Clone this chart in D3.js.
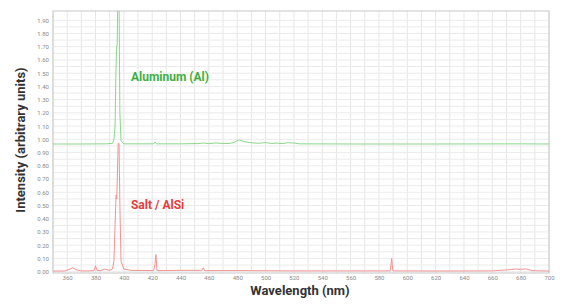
<!DOCTYPE html>
<html>
<head>
<meta charset="utf-8">
<script src="https://cdn.jsdelivr.net/npm/d3@7"></script>
<style>
  body { margin: 0; background: #fff; }
  #chartbox { width: 581px; height: 307px; }
</style>
</head>
<body>
<div id="chartbox"></div>
<script>
// tick labels
var xTicks = [360, 380, 400, 420, 440, 460, 480, 500, 520, 540, 560, 580, 600, 620, 640, 660, 680, 700];
var yTicks = d3.range(0, 20).map(i => i / 10);

// aluminum (Al) trace
var alNm = [350, 370, 388, 392, 393, 393.8, 394.3, 394.8, 395.3, 395.7, 396.6, 397.2, 398, 400, 421, 422, 423, 440, 452, 456, 460, 465, 470, 475, 478, 481, 483, 486, 490, 495, 500, 504, 508, 512, 516, 520, 524, 560, 620, 680, 700];
var alVal = [0.965, 0.965, 0.966, 0.97, 1.0, 1.1, 1.45, 1.68, 1.72, 2.05, 2.05, 1.2, 0.99, 0.966, 0.966, 0.98, 0.966, 0.966, 0.968, 0.972, 0.968, 0.973, 0.969, 0.97, 0.978, 0.995, 0.99, 0.98, 0.974, 0.97, 0.976, 0.969, 0.972, 0.968, 0.975, 0.972, 0.966, 0.965, 0.965, 0.966, 0.965];

// salt / AlSi trace
var saltNm = [350, 358, 362, 364, 366, 370, 376, 379, 380, 381, 384, 386, 390, 392, 393, 393.8, 394.5, 395, 395.6, 396, 396.6, 397.2, 398, 400, 405, 421, 422, 422.6, 423.4, 440, 455, 456, 457, 480, 520, 560, 588, 589, 589.8, 591, 620, 660, 672, 676, 680, 684, 688, 700];
var saltVal = [0.005, 0.005, 0.02, 0.03, 0.015, 0.006, 0.006, 0.01, 0.045, 0.01, 0.008, 0.02, 0.01, 0.02, 0.08, 0.35, 0.58, 0.55, 0.8, 0.97, 0.97, 0.5, 0.08, 0.02, 0.01, 0.008, 0.06, 0.13, 0.008, 0.01, 0.01, 0.03, 0.008, 0.008, 0.006, 0.006, 0.006, 0.1, 0.006, 0.006, 0.005, 0.006, 0.015, 0.02, 0.018, 0.02, 0.008, 0.005];

var alData = alNm.map((d, i) => ({ x: d, y: alVal[i] }));
var saltData = saltNm.map((d, i) => ({ x: d, y: saltVal[i] }));

var margin = { top: 11, right: 32, bottom: 34, left: 53 },
    width = 581 - margin.left - margin.right,
    height = 307 - margin.top - margin.bottom;

var svg = d3.select('#chartbox').append('svg')
    .attr('width', 581)
    .attr('height', 307);
var g = svg.append('g')
    .attr('transform', 'translate(' + [margin.left, margin.top] + ')');

var x = d3.scaleLinear().domain([350, 700]).range([0, width]);
var y = d3.scaleLinear().domain([-0.01, 1.97]).range([height, 0]);

// grid
g.append('g').selectAll('line')
    .data(d3.range(350, 701, 10))
    .enter().append('line')
    .attr('x1', d => x(d)).attr('x2', d => x(d))
    .attr('y1', 0).attr('y2', height)
    .style('stroke', '#e6e6e6').style('stroke-width', 1);
g.append('g').selectAll('line')
    .data(d3.range(0, 39).map(i => i * 0.05))
    .enter().append('line')
    .attr('x1', 0).attr('x2', width)
    .attr('y1', d => y(d)).attr('y2', d => y(d))
    .style('stroke', '#ebebeb').style('stroke-width', 1);

g.append('rect')
    .attr('width', width).attr('height', height)
    .style('fill', 'none').style('stroke', '#c8c8c8');

var clip = g.append('clipPath').attr('id', 'clip')
    .append('rect').attr('width', width).attr('height', height);

var line = d3.line().x(d => x(d.x)).y(d => y(d.y));

g.append('path').datum(alData)
    .attr('d', line)
    .attr('clip-path', 'url(#clip)')
    .style('fill', 'none').style('stroke', '#8ad68a').style('stroke-width', 1);
g.append('path').datum(saltData)
    .attr('d', line)
    .attr('clip-path', 'url(#clip)')
    .style('fill', 'none').style('stroke', '#f29393').style('stroke-width', 1);

// axes
var xAxis = g.append('g')
    .attr('transform', 'translate(0,' + height + ')')
    .call(d3.axisBottom(x).tickValues(xTicks).tickSize(0).tickPadding(3).tickFormat(d3.format('d')));
var yAxis = g.append('g')
    .call(d3.axisLeft(y).tickValues(yTicks).tickSize(0).tickPadding(4).tickFormat(d3.format('.2f')));
[xAxis, yAxis].forEach(a => {
  a.select('.domain').remove();
  a.selectAll('text').style('font-family', 'Roboto, sans-serif').style('font-size', '6px').style('fill', '#8a8a8a');
});

// titles
svg.append('text')
    .attr('x', 300).attr('y', 295)
    .attr('text-anchor', 'middle')
    .style('font-family', '"Liberation Sans Narrow", Roboto, sans-serif')
    .style('font-weight', 'bold').style('font-size', '13px').style('fill', '#333')
    .text('Wavelength (nm)');
svg.append('text')
    .attr('transform', 'translate(25,140) rotate(-90)')
    .attr('text-anchor', 'middle')
    .style('font-family', '"Liberation Sans Narrow", Roboto, sans-serif')
    .style('font-weight', 'bold').style('font-size', '13px').style('fill', '#333')
    .text('Intensity (arbitrary units)');

// series labels
g.append('text')
    .attr('x', x(405)).attr('y', y(1.44))
    .style('font-family', '"Liberation Sans Narrow", Roboto, sans-serif')
    .style('font-weight', 'bold').style('font-size', '12px').style('fill', '#3fae3f')
    .text('Aluminum (Al)');
g.append('text')
    .attr('x', x(405)).attr('y', y(0.47))
    .style('font-family', '"Liberation Sans Narrow", Roboto, sans-serif')
    .style('font-weight', 'bold').style('font-size', '12px').style('fill', '#e43c3c')
    .text('Salt / AlSi');
</script>
</body>
</html>
